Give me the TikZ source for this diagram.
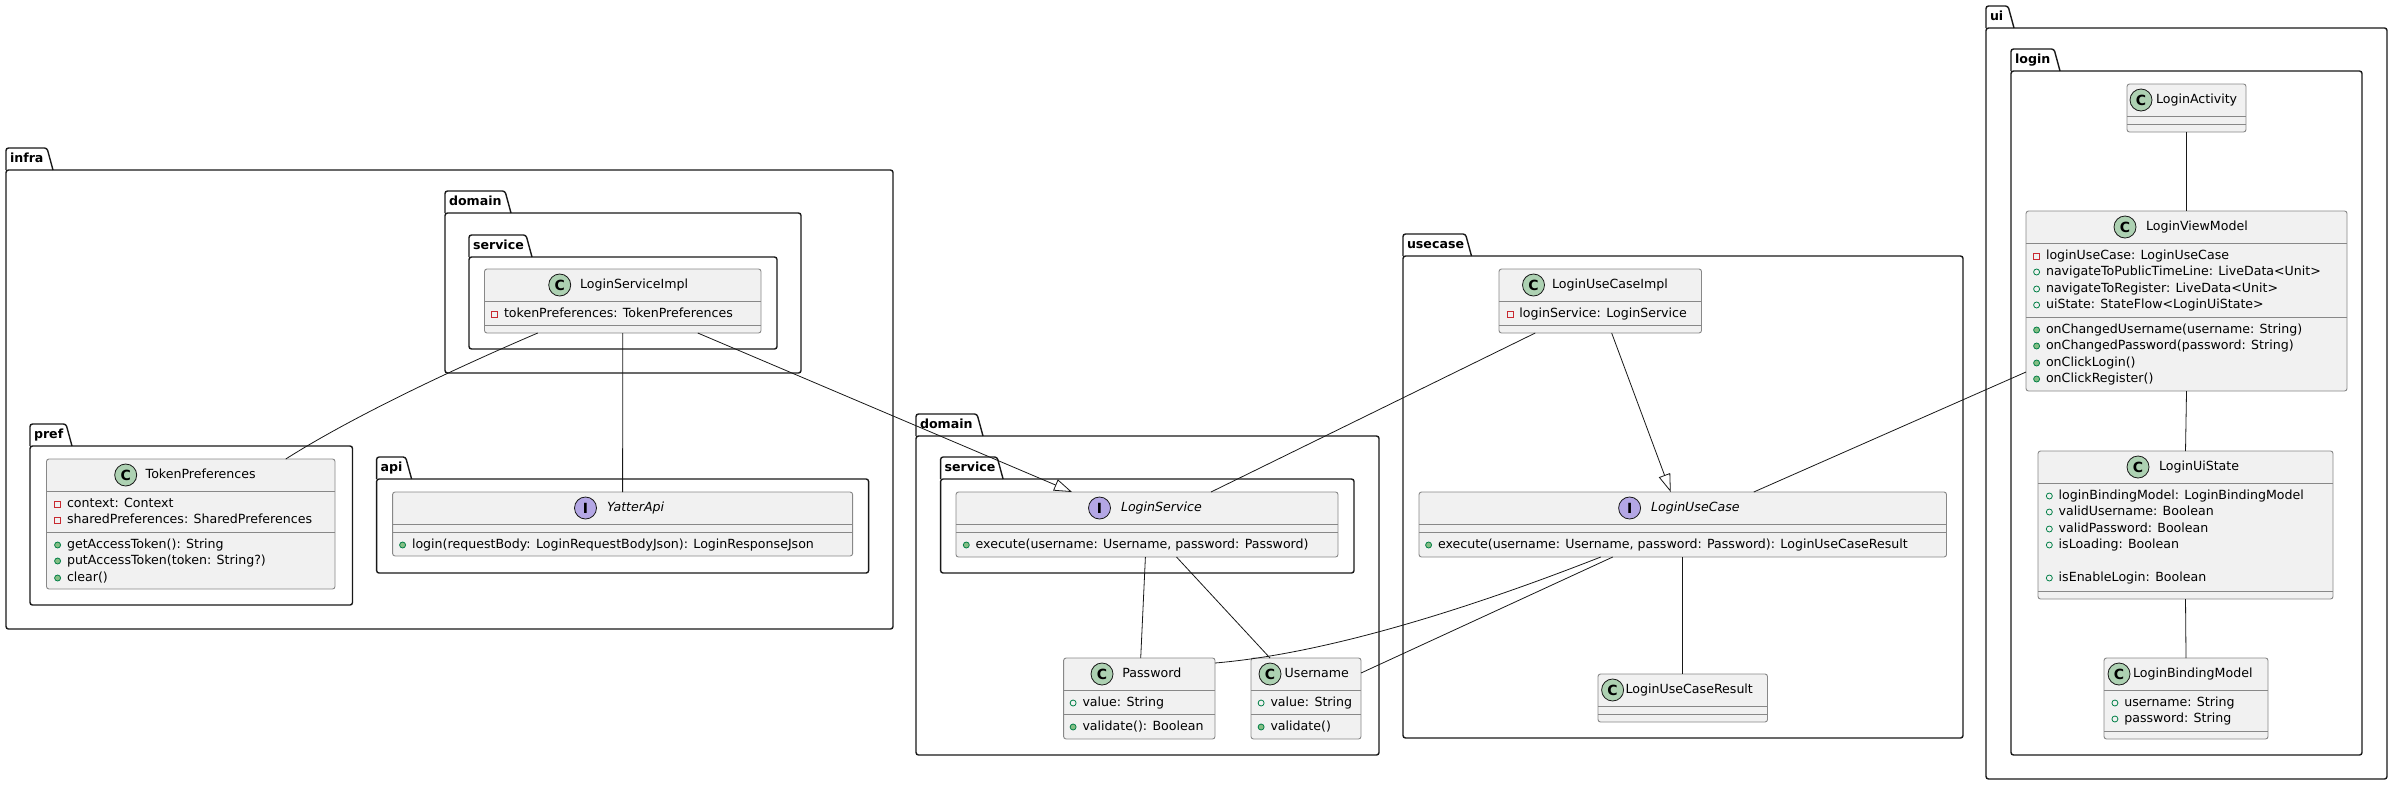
\documentclass[tikz,border=0pt]{standalone}
\usepackage{fontspec}
\setmainfont{DejaVu Sans}
\usepackage{tikz}
\usetikzlibrary{ positioning, arrows.meta, calc }
\usepackage{xcolor}
\definecolor{ink}{HTML}{181818}
\definecolor{boxgray}{HTML}{888888}
\definecolor{boxfill}{HTML}{F1F1F1}
\definecolor{spotgreen}{HTML}{ADD1B2}
\definecolor{spotviolet}{HTML}{B4A7E5}
\definecolor{pubgreen}{HTML}{038048}
\definecolor{pubfill}{HTML}{84BE84}
\definecolor{privred}{HTML}{C82930}
\tikzset{
  txt/.style={font=\fontsize{12.6}{16}\selectfont, inner sep=0pt, outer sep=0pt, text height=10pt, text depth=3pt},
  pkgbody/.style={draw=ink, line width=1.4pt, rounded corners=2.5pt, anchor=north west, inner sep=0pt, outer sep=0pt},
  pkgtab/.style={draw=ink, line width=1.4pt, rounded corners=2.5pt},
  pkgtitle/.style={txt, anchor=west, font=\fontsize{12.6}{16}\selectfont\bfseries},
  classbox/.style={draw=boxgray, line width=0.9pt, fill=boxfill, rounded corners=2.5pt, anchor=north west, inner sep=0pt, outer sep=0pt},
  sepline/.style={draw=boxgray, line width=0.9pt},
  spot/.style={circle, draw=ink, line width=0.8pt, minimum size=22pt, inner sep=0pt, outer sep=0pt, font=\fontsize{14}{14}\selectfont\bfseries},
  cspot/.style={spot, fill=spotgreen},
  ispot/.style={spot, fill=spotviolet},
  member/.style={txt, anchor=west},
  pubfield/.style={label={[circle, draw=pubgreen, line width=0.8pt, minimum size=6pt, inner sep=0pt, label distance=6pt]left:{}}},
  pubmethod/.style={label={[circle, draw=pubgreen, fill=pubfill, line width=0.8pt, minimum size=6pt, inner sep=0pt, label distance=6pt]left:{}}},
  privfield/.style={label={[rectangle, draw=privred, line width=0.8pt, minimum size=6pt, inner sep=0pt, label distance=6pt]left:{}}},
  assoc/.style={draw=ink, line width=0.8pt},
  realize/.style={assoc, -{Triangle[open, length=18pt, width=12pt, fill=white]}},
}
\begin{document}
\begin{tikzpicture}[x=1pt, y=-1pt]
  \useasboundingbox (0,0) rectangle (2392,785);

  % packages
  \node[pkgbody, minimum width=887pt, minimum height=459pt] (infra) at (6,170) {};
  \node[pkgbody, minimum width=356pt, minimum height=160pt] (infradomain) at (445,213) {};
  \node[pkgbody, minimum width=308pt, minimum height=92pt] (infraservice) at (469,257) {};
  \node[pkgbody, minimum width=322.5pt, minimum height=159pt] (pref) at (30,446) {};
  \node[pkgbody, minimum width=492pt, minimum height=94pt] (api) at (376.6,479) {};
  \node[pkgbody, minimum width=463pt, minimum height=319pt] (domain) at (916,436) {};
  \node[pkgbody, minimum width=413.4pt, minimum height=94pt] (domainservice) at (940.6,479) {};
  \node[pkgbody, minimum width=560pt, minimum height=482pt] (usecase) at (1403,256) {};
  \node[pkgbody, minimum width=401pt, minimum height=751pt] (ui) at (1986,28) {};
  \node[pkgbody, minimum width=351pt, minimum height=684pt] (login) at (2011,71) {};
  \foreach \n/\t/\w in {infra/infra/47, infradomain/domain/66, infraservice/service/63, pref/pref/42, api/api/35,
      domain/domain/67, domainservice/service/62.5, usecase/usecase/68.5, ui/ui/28, login/login/49} {
    \draw[pkgtab] (\n.north west) -- ++(0,-22) -- ++(\w-6,0) -- ++(6,22);
    \node[pkgtitle] (\n title) at ([xshift=4pt, yshift=11pt]\n.north west) {\t};
  }

  % class boxes
  \node[classbox, minimum width=276.5pt, minimum height=64pt] (impl) at (484.5,269) {};
  \node[classbox, minimum width=288.5pt, minimum height=130pt] (token) at (46.5,459) {};
  \node[classbox, minimum width=460pt, minimum height=64pt] (yatter) at (392.6,492) {};
  \node[classbox, minimum width=382pt, minimum height=65pt] (service) at (956,492) {};
  \node[classbox, minimum width=151.4pt, minimum height=81pt] (password) at (1063.6,658) {};
  \node[classbox, minimum width=110pt, minimum height=81pt] (username) at (1251,658) {};
  \node[classbox, minimum width=202.5pt, minimum height=64pt] (ucimpl) at (1499,269) {};
  \node[classbox, minimum width=527.5pt, minimum height=65pt] (uc) at (1419,492) {};
  \node[classbox, minimum width=169.5pt, minimum height=48pt] (result) at (1598,674) {};
  \node[classbox, minimum width=119pt, minimum height=48pt] (activity) at (2127,84) {};
  \node[classbox, minimum width=321pt, minimum height=180pt] (vm) at (2026,211) {};
  \node[classbox, minimum width=295pt, minimum height=148pt] (uistate) at (2038,451) {};
  \node[classbox, minimum width=164pt, minimum height=81pt] (binding) at (2104,658) {};
  \foreach \n/\a/\b in {impl/32/56, token/32/73, yatter/32/40, service/32/40, password/32/56, username/32/56,
      ucimpl/32/56, uc/32/40, result/32/40, activity/32/40, vm/32/106, uistate/32/140, binding/32/73} {
    \draw[sepline] ([yshift=-\a pt]\n.north west) -- ([yshift=-\a pt]\n.north east);
    \draw[sepline] ([yshift=-\b pt]\n.north west) -- ([yshift=-\b pt]\n.north east);
  }

  % class titles
  \node[cspot] (implspot) at (559.7,285) {C};
  \node[txt, right=9.3pt of implspot] (impltitle) {LoginServiceImpl};
  \node[cspot] (tokenspot) at (125.7,475) {C};
  \node[txt, right=9pt of tokenspot] (tokentitle) {TokenPreferences};
  \node[ispot] (yatterspot) at (585.5,508) {I};
  \node[txt, right=10.5pt of yatterspot, font=\fontsize{12.6}{16}\selectfont\itshape] (yattertitle) {YatterApi};
  \node[ispot] (servicespot) at (1099.5,508) {I};
  \node[txt, right=10.5pt of servicespot, font=\fontsize{12.6}{16}\selectfont\itshape] (servicetitle) {LoginService};
  \node[cspot] (passwordspot) at (1102,674) {C};
  \node[txt, right=9.4pt of passwordspot] (passwordtitle) {Password};
  \node[cspot] (usernamespot) at (1270,674) {C};
  \node[txt, right=3.7pt of usernamespot] (usernametitle) {Username};
  \node[cspot] (ucimplspot) at (1533.5,285) {C};
  \node[txt, right=7.5pt of ucimplspot] (ucimpltitle) {LoginUseCaseImpl};
  \node[ispot] (ucspot) at (1629.6,508) {I};
  \node[txt, right=10.4pt of ucspot, font=\fontsize{12.6}{16}\selectfont\itshape] (uctitle) {LoginUseCase};
  \node[cspot] (resultspot) at (1612.6,690) {C};
  \node[txt, right=2pt of resultspot] (resulttitle) {LoginUseCaseResult};
  \node[cspot] (activityspot) at (2141,100) {C};
  \node[txt, right=4pt of activityspot] (activitytitle) {LoginActivity};
  \node[cspot] (vmspot) at (2125,227) {C};
  \node[txt, right=10pt of vmspot] (vmtitle) {LoginViewModel};
  \node[cspot] (uistatespot) at (2138,467) {C};
  \node[txt, right=10pt of uistatespot] (uistatetitle) {LoginUiState};
  \node[cspot] (bindingspot) at (2119,674) {C};
  \node[txt, right=3pt of bindingspot] (bindingtitle) {LoginBindingModel};

  % members
  \node[member, privfield] (impl1) at (504,314) {tokenPreferences: TokenPreferences};
  \node[member, privfield] (token1) at (67,504) {context: Context};
  \node[member, privfield] (token2) at (67,520) {sharedPreferences: SharedPreferences};
  \node[member, pubmethod] (token3) at (67,545) {getAccessToken(): String};
  \node[member, pubmethod] (token4) at (67,561) {putAccessToken(token: String?)};
  \node[member, pubmethod] (token5) at (67,578) {clear()};
  \node[member, pubmethod] (yatter1) at (412,545) {login(requestBody: LoginRequestBodyJson): LoginResponseJson};
  \node[member, pubmethod] (service1) at (975.7,545) {execute(username: Username, password: Password)};
  \node[member, pubfield] (password1) at (1082.5,703) {value: String};
  \node[member, pubmethod] (password2) at (1082.5,727) {validate(): Boolean};
  \node[member, pubfield] (username1) at (1270.5,703) {value: String};
  \node[member, pubmethod] (username2) at (1270.5,727) {validate()};
  \node[member, privfield] (ucimpl1) at (1519.4,314) {loginService: LoginService};
  \node[member, pubmethod] (uc1) at (1438,545) {execute(username: Username, password: Password): LoginUseCaseResult};
  \node[member, privfield] (vm1) at (2046,256) {loginUseCase: LoginUseCase};
  \node[member, pubfield] (vm2) at (2046,272) {navigateToPublicTimeLine: LiveData<Unit>};
  \node[member, pubfield] (vm3) at (2046,289) {navigateToRegister: LiveData<Unit>};
  \node[member, pubfield] (vm4) at (2046,305) {uiState: StateFlow<LoginUiState>};
  \node[member, pubmethod] (vm5) at (2046,330) {onChangedUsername(username: String)};
  \node[member, pubmethod] (vm6) at (2046,346) {onChangedPassword(password: String)};
  \node[member, pubmethod] (vm7) at (2046,363) {onClickLogin()};
  \node[member, pubmethod] (vm8) at (2046,379) {onClickRegister()};
  \node[member, pubfield] (uistate1) at (2058.7,496) {loginBindingModel: LoginBindingModel};
  \node[member, pubfield] (uistate2) at (2058.7,512) {validUsername: Boolean};
  \node[member, pubfield] (uistate3) at (2058.7,529) {validPassword: Boolean};
  \node[member, pubfield] (uistate4) at (2058.7,545) {isLoading: Boolean};
  \node[member, pubfield] (uistate5) at (2058.7,578) {isEnableLogin: Boolean};
  \node[member, pubfield] (binding1) at (2124.3,703) {username: String};
  \node[member, pubfield] (binding2) at (2124.3,719) {password: String};

  % connectors
  \draw[assoc] ([xshift=-85pt]impl.south) .. controls (470,362) and (360,412) .. ([xshift=95pt]token.north);
  \draw[assoc] (impl.south) -- (yatter.north);
  \draw[realize] ([xshift=75pt]impl.south) -- ([xshift=-75pt]service.north);
  \draw[assoc] ([xshift=-65pt]ucimpl.south) -- ([xshift=64pt]service.north);
  \draw[realize] ([xshift=11.4pt]ucimpl.south) -- ([xshift=-12pt]uc.north);
  \draw[assoc] ([yshift=-71pt]vm.west) -- ([xshift=71pt]uc.north);
  \draw[assoc] ([xshift=-1.6pt]service.south) -- ([xshift=1.4pt]password.north);
  \draw[assoc] ([xshift=29.5pt]service.south) -- ([xshift=-36pt]username.north);
  \draw[assoc] ([xshift=-82pt]uc.south) .. controls (1440,620) and (1310,655) .. ([yshift=35.5pt]password.east);
  \draw[assoc] ([xshift=-70pt]uc.south) -- ([yshift=25.5pt]username.east);
  \draw[assoc] (uc.south) -- (result.north);
  \draw[assoc] (activity.south) -- (vm.north);
  \draw[assoc] (vm.south) -- (uistate.north);
  \draw[assoc] (uistate.south) -- (binding.north);
\end{tikzpicture}
\end{document}
